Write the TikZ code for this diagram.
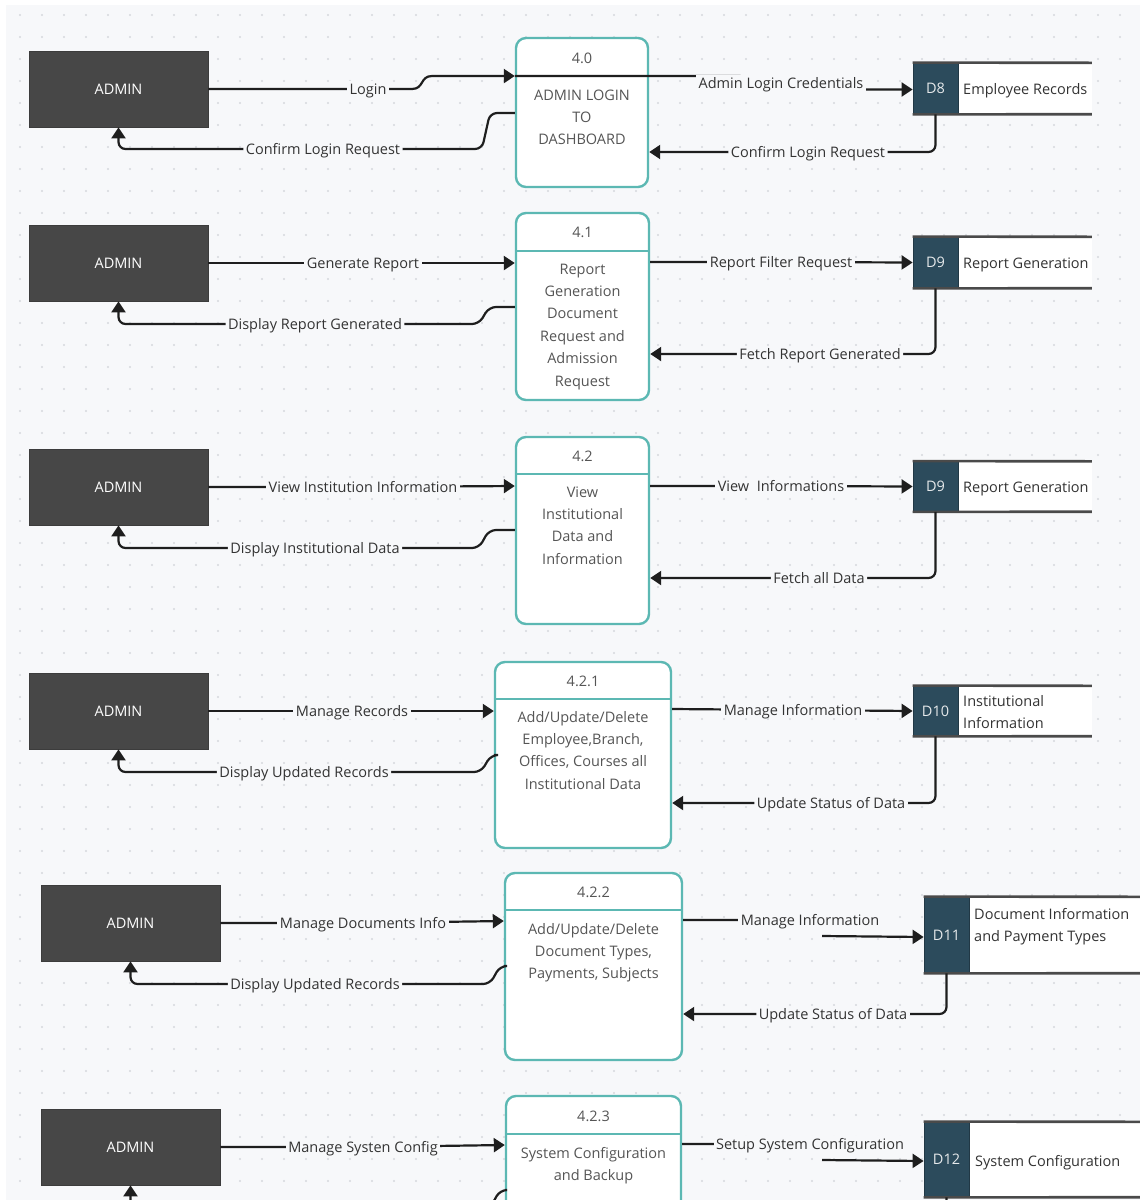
\documentclass[tikz,border=0pt]{standalone}
\usepackage{fontspec}
\setmainfont{Open Sans}
\usetikzlibrary{arrows.meta}

\definecolor{canvas}{HTML}{F7F8FA}
\definecolor{griddot}{HTML}{D6D8DD}
\definecolor{adminfill}{HTML}{474747}
\definecolor{storefill}{HTML}{2C4B5C}
\definecolor{procline}{HTML}{5CB8B3}
\definecolor{flowline}{HTML}{1E1E1E}
\definecolor{labeltext}{HTML}{333333}
\definecolor{proctext}{HTML}{555555}
\definecolor{storeline}{HTML}{4A4A4A}

\tikzset{
  base/.style={font=\fontsize{14.5}{22.4}\selectfont},
  adminbox/.style={base, rectangle, fill=adminfill, draw=adminfill!85!black, line width=0.8,
    minimum width=179, minimum height=76, text=white, inner sep=0, text height=11, text depth=1},
  procbox/.style={rectangle, rounded corners=10, draw=procline, line width=2.4, fill=white, inner sep=0},
  procdiv/.style={draw=procline, line width=2.2},
  ptext/.style={base, text=proctext, inner sep=0, text height=11, text depth=1},
  pbody/.style={base, text=proctext, inner sep=0, align=center, anchor=north},
  storeid/.style={base, rectangle, fill=storefill, draw=storefill!75!black, line width=0.8,
    minimum width=45, text=white!88!storefill, inner sep=0, text height=11, text depth=1},
  sname/.style={rectangle, fill=white, inner sep=0, anchor=west},
  storeln/.style={draw=storeline, line width=2.6},
  stext/.style={base, text=labeltext, inner sep=0, anchor=west, text height=11, text depth=1},
  stextml/.style={base, text=labeltext, inner sep=0, anchor=north west, align=left},
  flow/.style={draw=flowline, line width=2.2, -{Triangle[length=11pt,width=14pt]}},
  rc/.style={rounded corners=7},
  lbl/.style={base, fill=canvas, text=labeltext, inner xsep=2.5, inner ysep=2, text height=11, text depth=1},
}

\begin{document}
\begin{tikzpicture}[x=1pt, y=-1pt]
\useasboundingbox (0,0) rectangle (1140,1200);
\clip (0,0) rectangle (1140,1200);

% canvas and dot grid
\fill[white] (0,0) rectangle (1140,1200);
\fill[canvas] (6,5) rectangle (1140,1200);
\foreach \x in {20,42,...,1140}
  \foreach \y in {15,37,...,1200}
    \fill[griddot] (\x,\y) circle[radius=1.1pt];

% external entities
\node[adminbox] (a0) at (118.5,89)   {ADMIN};
\node[adminbox] (a1) at (118.5,263)  {ADMIN};
\node[adminbox] (a2) at (118.5,487)  {ADMIN};
\node[adminbox] (a3) at (118.5,711)  {ADMIN};
\node[adminbox] (a4) at (130.5,923)  {ADMIN};
\node[adminbox] (a5) at (130.5,1147) {ADMIN};

% processes
\node[procbox, minimum width=132, minimum height=149] (p0) at (582,112.5) {};
\draw[procdiv] (p0.west|-0,76) -- (p0.east|-0,76);
\node[ptext] (p0n) at (582,58) {4.0};
\node[pbody] (p0b) at (582,84.3) {\strut ADMIN LOGIN\\TO\\DASHBOARD};

\node[procbox, minimum width=133, minimum height=187] (p1) at (582.5,306.5) {};
\draw[procdiv] (p1.west|-0,251) -- (p1.east|-0,251);
\node[ptext] (p1n) at (582.5,232) {4.1};
\node[pbody] (p1b) at (582.5,258.3) {\strut Report\\Generation\\Document\\Request and\\Admission\\Request};

\node[procbox, minimum width=133, minimum height=187] (p2) at (582.5,530.5) {};
\draw[procdiv] (p2.west|-0,474) -- (p2.east|-0,474);
\node[ptext] (p2n) at (582.5,456) {4.2};
\node[pbody] (p2b) at (582.5,481.3) {\strut View\\Institutional\\Data and\\Information};

\node[procbox, minimum width=176, minimum height=186] (p3) at (583,755) {};
\draw[procdiv] (p3.west|-0,699) -- (p3.east|-0,699);
\node[ptext] (p3n) at (583,681) {4.2.1};
\node[pbody] (p3b) at (583,706.3) {\strut Add/Update/Delete\\Employee,Branch,\\Offices, Courses all\\Institutional Data};

\node[procbox, minimum width=177, minimum height=187] (p4) at (593.5,966.5) {};
\draw[procdiv] (p4.west|-0,910) -- (p4.east|-0,910);
\node[ptext] (p4n) at (593.5,892) {4.2.2};
\node[pbody] (p4b) at (593.5,918.3) {\strut Add/Update/Delete\\Document Types,\\Payments, Subjects};

\node[procbox, minimum width=175, minimum height=187] (p5) at (593.5,1189.5) {};
\draw[procdiv] (p5.west|-0,1134) -- (p5.east|-0,1134);
\node[ptext] (p5n) at (593.5,1116) {4.2.3};
\node[pbody] (p5b) at (593.5,1142.3) {\strut System Configuration\\and Backup};

% data stores
\node[storeid, minimum height=51] (d8) at (935.5,88.5) {D8};
\node[sname, minimum width=133, minimum height=51] (d8n) at (d8.east) {};
\node[stext] (d8t) at (963,89) {Employee Records};

\node[storeid, minimum height=51] (d9a) at (935.5,262.5) {D9};
\node[sname, minimum width=133, minimum height=51] (d9an) at (d9a.east) {};
\node[stext] (d9at) at (963,263) {Report Generation};

\node[storeid, minimum height=50] (d9b) at (935.5,486.5) {D9};
\node[sname, minimum width=133, minimum height=50] (d9bn) at (d9b.east) {};
\node[stext] (d9bt) at (963,487) {Report Generation};

\node[storeid, minimum height=50] (d10) at (935.5,711) {D10};
\node[sname, minimum width=133, minimum height=50] (d10n) at (d10.east) {};
\node[stextml] (d10t) at (963,690.3) {\strut Institutional\\Information};

\node[storeid, minimum height=76] (d11) at (946.5,935) {D11};
\node[sname, minimum width=171, minimum height=76] (d11n) at (d11.east) {};
\node[stextml] (d11t) at (974,903.3) {\strut Document Information\\and Payment Types};

\node[storeid, minimum height=75] (d12) at (946.5,1159.5) {D12};
\node[sname, minimum width=171, minimum height=75] (d12n) at (d12.east) {};
\node[stext] (d12t) at (975,1161) {System Configuration};

\foreach \s in {d8,d9a,d9b,d10,d11,d12}{
  \draw[storeln] (\s.north west) -- (\s n.north east);
  \draw[storeln] (\s.south west) -- (\s n.south east);
}

% 4.0 admin login
\draw[flow] (a0.east) -- (368,89) node[lbl] (l0a) {Login}
  -- (412,89) .. controls (424,89) and (420,76) .. (432,76) -- (p0.west|-0,76);
\draw[flow] (p0.west|-0,76) -- (740,76) -- (781,83) node[lbl] (l0b) {Admin Login Credentials}
  -- (822,89.5) -- (d8.west|-0,89.5);
\draw[flow, rc] (p0.west|-0,113) -- (490,113) -- (482,149)
  -- (323,149) node[lbl] (l0c) {Confirm Login Request} -- (118.5,149) -- (a0.south);
\draw[flow, rc] (d8.south) -- (935.5,152) -- (808,152) node[lbl] (l0d) {Confirm Login Request}
  -- (p0.east|-0,152);

% 4.1 reports
\draw[flow] (a1.east) -- (363,263) node[lbl] (l1a) {Generate Report} -- (p1.west|-0,263);
\draw[flow, rc] (p1.west|-0,307) -- (489,307) -- (479,324)
  -- (315,324) node[lbl] (l1b) {Display Report Generated} -- (118.5,324) -- (a1.south);
\draw[flow] (p1.east|-0,262) -- (781,262) node[lbl] (l1c) {Report Filter Request} -- (d9a.west|-0,262.5);
\draw[flow, rc] (d9a.south) -- (935.5,354) -- (820,354) node[lbl] (l1d) {Fetch Report Generated}
  -- (p1.east|-0,354);

% 4.2 institutional information
\draw[flow] (a2.east) -- (363,487) node[lbl] (l2a) {View Institution Information} -- (p2.west|-0,486);
\draw[flow, rc] (p2.west|-0,530) -- (489,530) -- (479,548)
  -- (315,548) node[lbl] (l2b) {Display Institutional Data} -- (118.5,548) -- (a2.south);
\draw[flow] (p2.east|-0,486) -- (781,486) node[lbl] (l2c) {View\ \ Informations} -- (d9b.west);
\draw[flow, rc] (d9b.south) -- (935.5,578) -- (819,578) node[lbl] (l2d) {Fetch all Data}
  -- (p2.east|-0,578);

% 4.2.1 institutional records
\draw[flow] (a3.east) -- (352,711) node[lbl] (l3a) {Manage Records} -- (p3.west|-0,711);
\draw[flow, rc] (p3.west|-0,755) -- (491,755) -- (481,772)
  -- (304,772) node[lbl] (l3b) {Display Updated Records} -- (118.5,772) -- (a3.south);
\draw[flow] (p3.east|-0,709) -- (793,710) node[lbl] (l3c) {Manage Information} -- (d10.west);
\draw[flow, rc] (d10.south) -- (935.5,803) -- (831,803) node[lbl] (l3d) {Update Status of Data}
  -- (p3.east|-0,803);

% 4.2.2 documents and payments
\draw[flow] (a4.east) -- (363,923) node[lbl] (l4a) {Manage Documents Info} -- (p4.west|-0,921);
\draw[flow, rc] (p4.west|-0,966) -- (500,966) -- (490,984)
  -- (315,984) node[lbl] (l4b) {Display Updated Records} -- (130.5,984) -- (a4.south);
\draw[flow] (p4.east|-0,920) -- (810,920) node[lbl] (l4c) {Manage Information}
  (822,936) -- (d11.west|-0,937);
\draw[flow, rc] (d11.south) -- (946.5,1014) -- (833,1014) node[lbl] (l4d) {Update Status of Data}
  -- (p4.east|-0,1014);

% 4.2.3 system configuration
\draw[flow] (a5.east) -- (363,1147) node[lbl] (l5a) {Manage Systen Config} -- (p5.west|-0,1145);
\draw[flow, rc] (p5.west|-0,1190) -- (500,1190) -- (490,1208)
  -- (130.5,1208) -- (a5.south);
\draw[flow] (p5.east|-0,1144) -- (810,1144) node[lbl] (l5c) {Setup System Configuration}
  (822,1160) -- (d12.west|-0,1161);
\draw[flow, rc] (d12.south) -- (946.5,1240) -- (p5.east|-0,1240);
\end{tikzpicture}
\end{document}
